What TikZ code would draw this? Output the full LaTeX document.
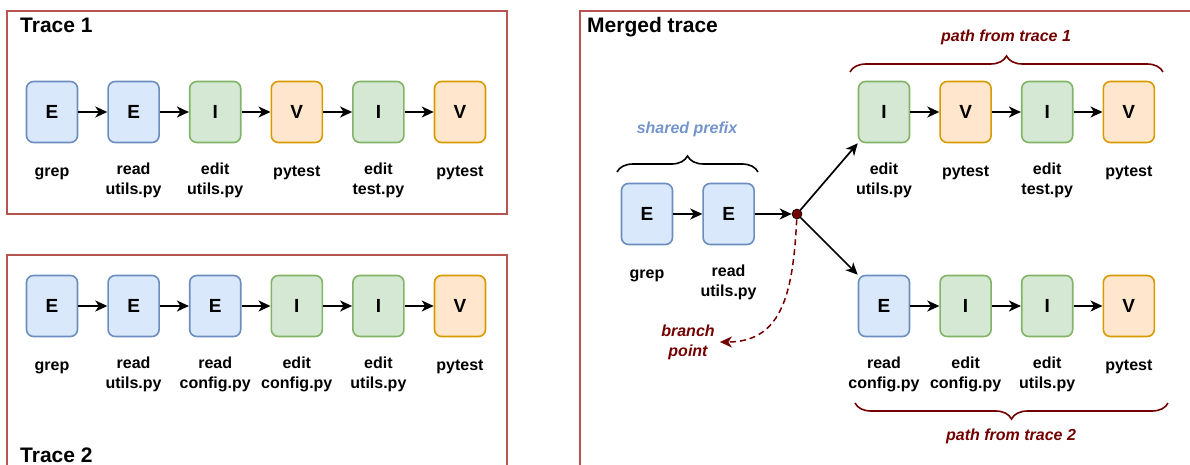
\documentclass[tikz,border=0pt]{standalone}
\usepackage{fontspec}
\setmainfont{Liberation Sans}
\usetikzlibrary{positioning,arrows.meta,decorations.pathreplacing}
\definecolor{efill}{HTML}{DAE8FC}
\definecolor{eline}{HTML}{6C8EBF}
\definecolor{ifill}{HTML}{D5E8D4}
\definecolor{iline}{HTML}{82B366}
\definecolor{vfill}{HTML}{FFE6CC}
\definecolor{vline}{HTML}{D79B00}
\definecolor{framered}{HTML}{B85450}
\definecolor{darkred}{HTML}{730000}
\definecolor{prefixblue}{HTML}{7395CC}
\tikzset{
  box/.style = {draw, rounded corners=7pt, line width=1.6pt, minimum width=51pt, minimum height=61pt, inner sep=0pt, font=\fontsize{19}{20}\selectfont\bfseries},
  ebox/.style = {box, draw=eline, fill=efill},
  ibox/.style = {box, draw=iline, fill=ifill},
  vbox/.style = {box, draw=vline, fill=vfill},
  tlabel/.style = {align=center, inner sep=0pt, font=\fontsize{16}{20}\selectfont\bfseries, execute at begin node=\strut},
  title/.style = {inner sep=0pt, anchor=base west, font=\fontsize{21}{24}\selectfont\bfseries},
  frame/.style = {draw=framered, line width=1.8pt},
  arr/.style = {->, line width=1.7pt},
  note/.style = {inner sep=0pt, text=darkred, font=\fontsize{16}{20}\selectfont\bfseries\itshape},
  curly/.style = {decorate, decoration={brace, amplitude=16pt}, line width=1.6pt},
  bpoint/.style = {circle, draw=black, fill=darkred, line width=0.6pt, minimum size=10pt, inner sep=0pt},
  >={Stealth[length=12pt, width=11pt, inset=3.5pt]}
}
\begin{document}
\begin{tikzpicture}[x=1pt, y=-1pt, node distance=29pt]
\useasboundingbox (0,0) rectangle (1190,465);
\clip (0,0) rectangle (1190,465);

% the three frames
\draw[frame] (7,11) rectangle (507,214);
\draw[frame] (7,255) rectangle (507,490);
\draw[frame] (580,11) rectangle (1210,490);

\node[title] (t1) at (20,33) {Trace 1};
\node[title] (t2) at (20,462) {Trace 2};
\node[title] (mt) at (587,33) {Merged trace};

% Trace 1
\node[ebox] (a1) at (52,112) {E};
\node[ebox, right=of a1] (a2) {E};
\node[ibox, right=of a2] (a3) {I};
\node[vbox, right=of a3] (a4) {V};
\node[ibox, right=of a4] (a5) {I};
\node[vbox, right=of a5] (a6) {V};
\node[tlabel, below=19pt of a1] (a1l) {grep};
\node[tlabel, below=19pt of a2] (a2l) {read\\utils.py};
\node[tlabel, below=19pt of a3] (a3l) {edit\\utils.py};
\node[tlabel, below=19pt of a4] (a4l) {pytest};
\node[tlabel, below=19pt of a5] (a5l) {edit\\test.py};
\node[tlabel, below=19pt of a6] (a6l) {pytest};
\draw[arr] (a1) -- (a2);
\draw[arr] (a2) -- (a3);
\draw[arr] (a3) -- (a4);
\draw[arr] (a4) -- (a5);
\draw[arr] (a5) -- (a6);

% Trace 2
\node[ebox] (b1) at (52,306) {E};
\node[ebox, right=of b1] (b2) {E};
\node[ebox, right=of b2] (b3) {E};
\node[ibox, right=of b3] (b4) {I};
\node[ibox, right=of b4] (b5) {I};
\node[vbox, right=of b5] (b6) {V};
\node[tlabel, below=19pt of b1] (b1l) {grep};
\node[tlabel, below=19pt of b2] (b2l) {read\\utils.py};
\node[tlabel, below=19pt of b3] (b3l) {read\\config.py};
\node[tlabel, below=19pt of b4] (b4l) {edit\\config.py};
\node[tlabel, below=19pt of b5] (b5l) {edit\\utils.py};
\node[tlabel, below=19pt of b6] (b6l) {pytest};
\draw[arr] (b1) -- (b2);
\draw[arr] (b2) -- (b3);
\draw[arr] (b3) -- (b4);
\draw[arr] (b4) -- (b5);
\draw[arr] (b5) -- (b6);

% Merged trace: shared prefix
\node[ebox] (m1) at (647,214) {E};
\node[ebox, right=of m1] (m2) {E};
\node[tlabel, below=19pt of m1] (m1l) {grep};
\node[tlabel, below=19pt of m2] (m2l) {read\\utils.py};
\node[bpoint] (bp) at (797,214) {};
\draw[arr] (m1) -- (m2);
\draw[arr] (m2) -- (bp);

% upper path
\node[ibox] (u1) at (884,112) {I};
\node[vbox, right=of u1] (u2) {V};
\node[ibox, right=of u2] (u3) {I};
\node[vbox, right=of u3] (u4) {V};
\node[tlabel, below=19pt of u1] (u1l) {edit\\utils.py};
\node[tlabel, below=19pt of u2] (u2l) {pytest};
\node[tlabel, below=19pt of u3] (u3l) {edit\\test.py};
\node[tlabel, below=19pt of u4] (u4l) {pytest};
\draw[arr] (u1) -- (u2);
\draw[arr] (u2) -- (u3);
\draw[arr] (u3) -- (u4);

% lower path
\node[ebox] (l1) at (884,306) {E};
\node[ibox, right=of l1] (l2) {I};
\node[ibox, right=of l2] (l3) {I};
\node[vbox, right=of l3] (l4) {V};
\node[tlabel, below=19pt of l1] (l1l) {read\\config.py};
\node[tlabel, below=19pt of l2] (l2l) {edit\\config.py};
\node[tlabel, below=19pt of l3] (l3l) {edit\\utils.py};
\node[tlabel, below=19pt of l4] (l4l) {pytest};
\draw[arr] (l1) -- (l2);
\draw[arr] (l2) -- (l3);
\draw[arr] (l3) -- (l4);

\draw[arr] (bp) -- (u1.south west);
\draw[arr] (bp) -- (l1.north west);

% braces and their notes
\draw[curly] (617,172) -- (758,172);
\node[note, text=prefixblue, anchor=base] (sp) at (687,134) {shared prefix};
\draw[curly, darkred] (850,72) -- (1163,72);
\node[note, anchor=base] (p1) at (1006,42) {path from trace 1};
\draw[curly, darkred] (1168,403) -- (855,403);
\node[note, anchor=base] (p2) at (1011,440) {path from trace 2};

\node[note, align=center] (bpl) at (688,342) {branch\\point};
\draw[->, darkred, dashed, line width=1.5pt, dash pattern=on 6pt off 4pt, shorten >=5pt] (bp) to[out=-93, in=0, looseness=1.2] (bpl.east);

\end{tikzpicture}
\end{document}
